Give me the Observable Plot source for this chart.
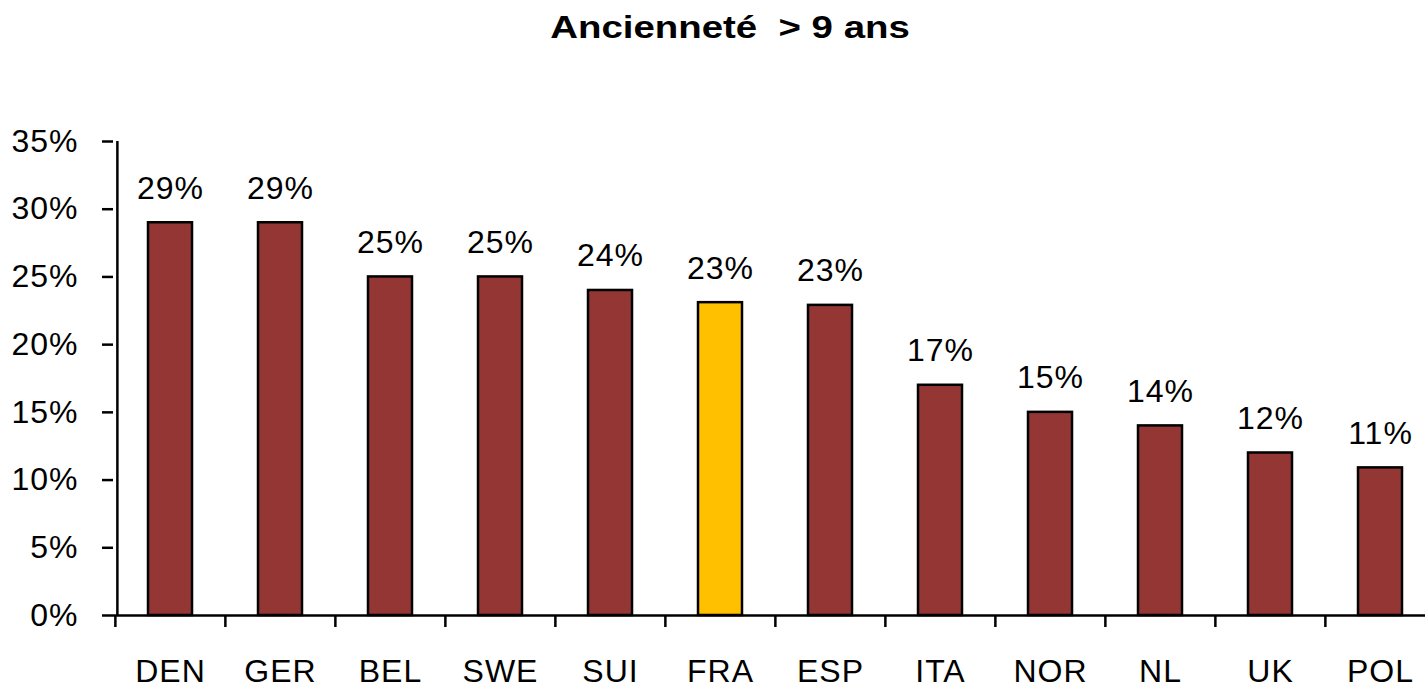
<!DOCTYPE html>
<html>
<head>
<meta charset="utf-8">
<script src="https://cdn.jsdelivr.net/npm/d3@7"></script>
<script src="https://cdn.jsdelivr.net/npm/@observablehq/plot@0.6"></script>
<style>
  html, body { margin: 0; padding: 0; background: #fff; overflow: hidden; }
  #title {
    height: 70px; width: 1425px; position: relative;
    font-family: "Liberation Sans", Arial, sans-serif;
    font-weight: bold; font-size: 32px; color: #000;
    white-space: pre;
  }
  #title span { position: absolute; left: 730px; top: 9px; transform: translateX(-50%) scaleX(1.2); }
  #chart svg { font-family: "Liberation Sans", Arial, sans-serif; overflow: visible; letter-spacing: 1px; }
</style>
</head>
<body>
<div id="title"><span>Ancienneté  &gt; 9 ans</span></div>
<div id="chart"></div>
<script>
const categories = ["DEN", "GER", "BEL", "SWE", "SUI", "FRA", "ESP", "ITA", "NOR", "NL", "UK", "POL"];
const values = [29.0, 29.0, 25.0, 25.0, 24.0, 23.1, 22.9, 17.0, 15.0, 14.0, 12.0, 10.9];
const highlight = "FRA";
const yTicks = [0, 5, 10, 15, 20, 25, 30, 35];

const data = categories.map((c, i) => ({cat: c, value: values[i]}));

const width = 1425, height = 618;
const marginLeft = 113, marginRight = -11;
const step = (width - marginRight - marginLeft) / categories.length;

const chart = Plot.plot({
  width, height,
  marginTop: 71, marginBottom: 73, marginLeft, marginRight,
  style: {fontSize: "32px", color: "#000", background: "white", fontFamily: "Liberation Sans, Arial, sans-serif"},
  x: {domain: categories, paddingInner: 0.6, paddingOuter: 0.3, label: null},
  y: {domain: [0, 35], label: null},
  marks: [
    Plot.barY(data, {
      x: "cat", y: "value",
      fill: d => d.cat === highlight ? "#FFC000" : "#943634",
      stroke: "#000", strokeWidth: 2.5
    }),
    Plot.ruleY([0], {stroke: "#000", strokeWidth: 2.5}),
    Plot.ruleX([categories[0]], {x: d => d, dx: -step / 2 + 2, y1: 0, y2: 35, stroke: "#000", strokeWidth: 2.5}),
    Plot.axisY({
      ticks: yTicks, tickSize: 11, tickPadding: 24, strokeWidth: 2.5,
      tickFormat: d => d + "%", fontSize: 32, label: null
    }),
    Plot.axisX({
      tickSize: 12, tickFormat: () => "", dx: -step / 2, strokeWidth: 2.5, label: null
    }),
    Plot.axisX({
      tickSize: 0, tickPadding: 44, fontSize: 32, label: null
    }),
    Plot.text(data, {
      x: "cat", y: "value", text: d => Math.round(d.value) + "%",
      lineAnchor: "bottom", dy: -24, fontSize: 32, fill: "#000"
    })
  ]
});
document.getElementById("chart").appendChild(chart);
</script>
</body>
</html>
